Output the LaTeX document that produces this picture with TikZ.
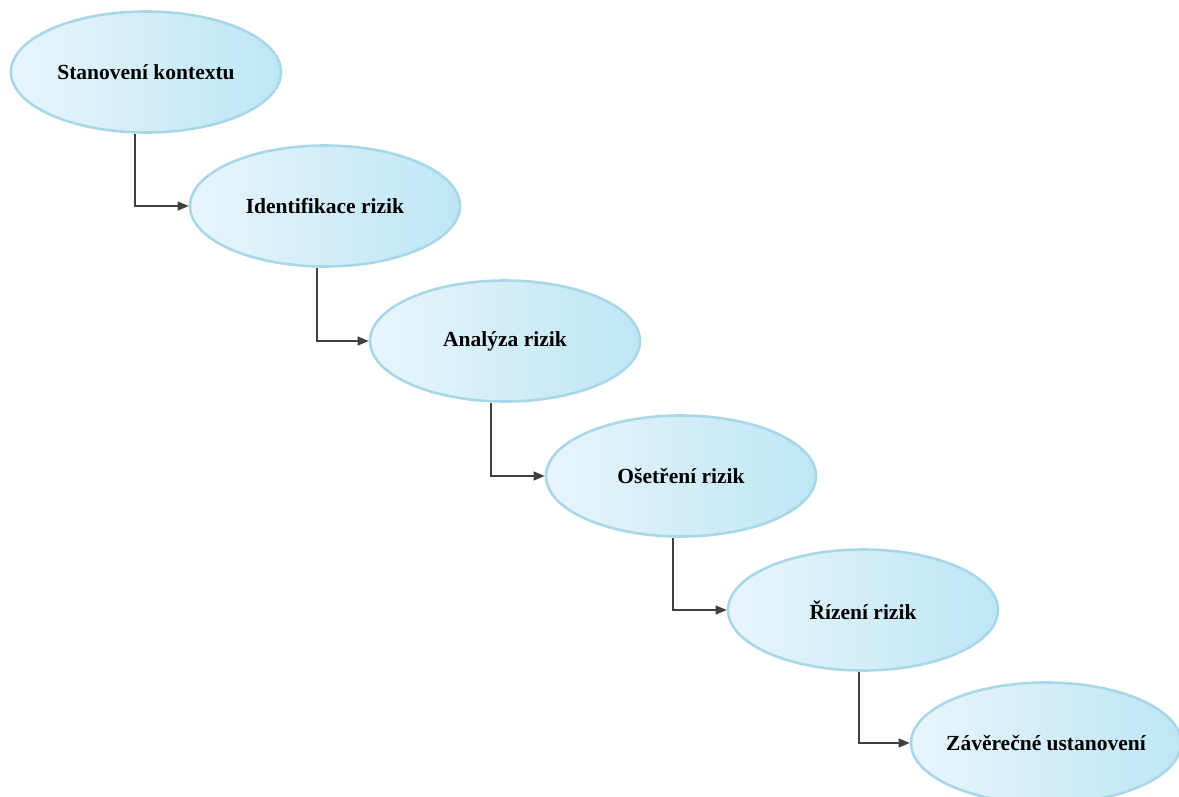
\documentclass[tikz,border=0pt]{standalone}
\usepackage{fontspec}
\setmainfont{Liberation Serif}
\usetikzlibrary{shapes.geometric,arrows.meta}
\definecolor{ellborder}{HTML}{A8D8E8}
\definecolor{ellleft}{HTML}{E8F5FB}
\definecolor{ellright}{HTML}{BEE6F5}
\definecolor{connc}{HTML}{404040}
\newcommand{\stagetext}[1]{\makebox[0pt][c]{#1}}
\tikzset{
  stage/.style={ellipse, draw=ellborder, line width=2.6pt, left color=ellleft, right color=ellright,
    minimum width=270pt, minimum height=121pt, inner sep=0pt,
    font=\fontsize{21.5}{25}\selectfont\bfseries, text=black},
  conn/.style={draw=connc, line width=1.3pt, -{Triangle[length=11pt,width=9pt]}}
}
\begin{document}
\begin{tikzpicture}[x=1pt,y=-1pt]
\useasboundingbox (0,0) rectangle (1179,796);
\begin{scope}
\clip (0,0) rectangle (1179,796);
\node[stage] (s1) at (146,72) {\stagetext{Stanovení kontextu}};
\node[stage] (s2) at (325,206) {\stagetext{Identifikace rizik}};
\node[stage] (s3) at (505,341) {\stagetext{Analýza rizik}};
\node[stage] (s4) at (681,476) {\stagetext{Ošetření rizik}};
\node[stage] (s5) at (863,610) {\stagetext{Řízení rizik}};
\node[stage] (s6) at (1046,743) {\stagetext{Závěrečné ustanovení}};
\end{scope}
\draw[conn] ([xshift=-11pt]s1.south) |- (s2.west);
\draw[conn] ([xshift=-8pt]s2.south) |- (s3.west);
\draw[conn] ([xshift=-14pt]s3.south) |- (s4.west);
\draw[conn] ([xshift=-8pt]s4.south) |- (s5.west);
\draw[conn] ([xshift=-4pt]s5.south) |- (s6.west);
\end{tikzpicture}
\end{document}
